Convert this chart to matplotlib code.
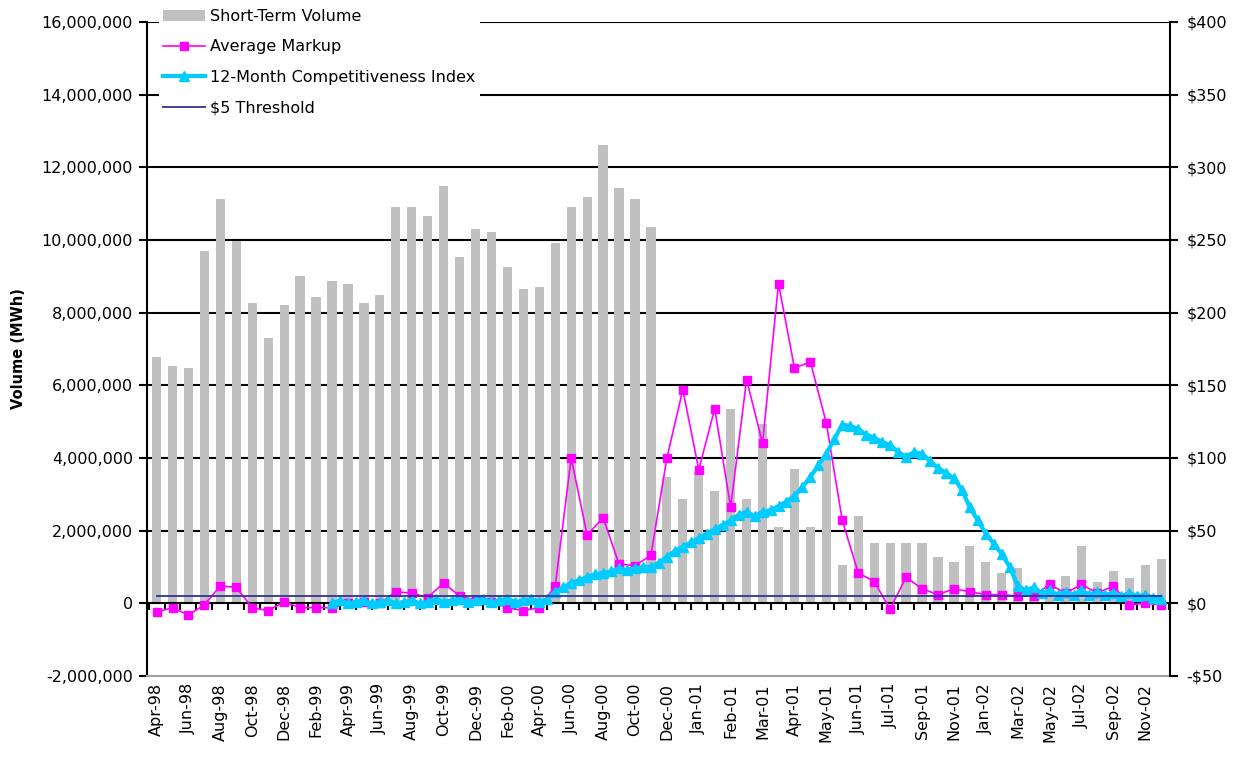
import numpy as np
import matplotlib
matplotlib.use("Agg")
import matplotlib.pyplot as plt
import matplotlib.markers as mmarkers
from matplotlib.patches import Patch
from matplotlib.lines import Line2D

# Monthly short-term volume (MWh)
volume = [6.77e6, 6.53e6, 6.47e6, 9.70e6, 11.12e6, 9.98e6, 8.27e6, 7.29e6,
          8.20e6, 9.02e6, 8.42e6, 8.87e6, 8.79e6, 8.27e6, 8.49e6, 10.90e6,
          10.90e6, 10.67e6, 11.49e6, 9.54e6, 10.29e6, 10.22e6, 9.25e6, 8.64e6,
          8.72e6, 9.91e6, 10.90e6, 11.19e6, 12.61e6, 11.42e6, 11.12e6, 10.37e6,
          3.47e6, 2.87e6, 3.62e6, 3.09e6, 5.34e6, 2.87e6, 4.94e6, 2.11e6,
          3.69e6, 2.11e6, 4.02e6, 1.05e6, 2.41e6, 1.65e6, 1.65e6, 1.65e6,
          1.65e6, 1.28e6, 1.13e6, 1.59e6, 1.13e6, 0.83e6, 0.98e6, 0.45e6,
          0.55e6, 0.75e6, 1.59e6, 0.60e6, 0.90e6, 0.70e6, 1.05e6, 1.21e6]

# Average markup ($/MWh), one value per period
markup = [-6, -3, -8, -1, 12, 11, -3, -5, 1, -3, -3, -3, 0, 1, 0, 8,
          7, 4, 14, 5, 2, 1, -3, -5, -3, 12, 100, 47, 59, 27, 26, 33,
          100, 147, 92, 134, 66, 154, 110, 220, 162, 166, 124, 57, 21, 15, -4, 18,
          10, 6, 10, 8, 6, 6, 5, 5, 13, 7, 13, 7, 12, -1, 0, -1]

# 12-month competitiveness index ($/MWh), sampled twice per period
index_start = 11.0
index_step = 0.5
comp_index = [0, 2, 0, 1, 2, 0, 1, 2, 0, 1, 2, 0, 1, 3, 1, 2,
              3, 1, 2, 3, 1, 2, 3, 1, 2, 3, 1, 3, 8, 11, 14, 16,
              18, 20, 21, 22, 24, 23, 24, 25, 25, 28, 32, 36, 39, 42, 45, 48,
              51, 54, 57, 61, 63, 60, 63, 64, 67, 70, 74, 80, 87, 95, 103, 113,
              123, 122, 120, 116, 114, 111, 109, 104, 101, 104, 103, 98, 93, 90, 86, 78,
              66, 57, 48, 41, 34, 25, 12, 9, 11, 7, 9, 6, 8, 6, 9, 6,
              8, 6, 7, 5, 7, 5, 6, 4, 3]

threshold = 5

tick_labels = ['Apr-98', 'Jun-98', 'Aug-98', 'Oct-98', 'Dec-98', 'Feb-99',
               'Apr-99', 'Jun-99', 'Aug-99', 'Oct-99', 'Dec-99', 'Feb-00',
               'Apr-00', 'Jun-00', 'Aug-00', 'Oct-00', 'Dec-00', 'Jan-01',
               'Feb-01', 'Mar-01', 'Apr-01', 'May-01', 'Jun-01', 'Jul-01',
               'Sep-01', 'Nov-01', 'Jan-02', 'Mar-02', 'May-02', 'Jul-02',
               'Sep-02', 'Nov-02']

vol_ticks = list(range(-2_000_000, 16_000_001, 2_000_000))
usd_ticks = list(range(-50, 401, 50))

BAR = '#c0c0c0'
MAGENTA = '#ff00ff'
CYAN = '#00ccff'
NAVY = '#333399'
FS = 11.5

plt.rcParams['font.family'] = ['DejaVu Sans']

W, H = 1239, 762
fig = plt.figure(figsize=(W / 100, H / 100), dpi=100)
ax = fig.add_axes([147 / W, 1 - 676 / H, (1170 - 147) / W, (676 - 22) / H])

x = np.arange(len(volume))
ax.set_xlim(-0.6, len(volume) - 0.45)
ax.set_ylim(vol_ticks[0], vol_ticks[-1])

# horizontal gridlines behind the bars
for t in vol_ticks[1:]:
    if t != 0:
        ax.axhline(t, color='black', lw=1.5, zorder=0)

ax.bar(x, volume, width=0.58, color=BAR, zorder=1)

# category axis crossing at zero, with tick marks between categories
ax.axhline(0, color='black', lw=1.5, zorder=2)
bounds = np.arange(len(volume) + 1) - 0.5
ax.plot(bounds, np.zeros_like(bounds), ls='none', marker=mmarkers.TICKDOWN,
        ms=5, mew=1.5, color='black', zorder=2, clip_on=False)

ax.set_xticks(x[::2])
ax.set_xticklabels(tick_labels, rotation=90, fontsize=FS)
ax.tick_params(axis='x', length=0, pad=5)

ax.set_yticks(vol_ticks)
ax.set_yticklabels([f'{v:,}' for v in vol_ticks], fontsize=FS)
ax.tick_params(axis='y', direction='out', length=6, width=1.5, pad=4)
ax.set_ylabel('Volume (MWh)', fontsize=10.5, fontweight='bold', labelpad=11)

ax.spines['top'].set_visible(False)
ax.spines['right'].set_visible(False)
ax.spines['left'].set_linewidth(1.5)
ax.spines['bottom'].set_color('#a0a0a0')
ax.spines['bottom'].set_linewidth(1.5)

# dollar axis
ax2 = ax.twinx()
ax2.set_ylim(usd_ticks[0], usd_ticks[-1])
ax2.set_yticks(usd_ticks)
ax2.set_yticklabels([f'-${-v}' if v < 0 else f'${v}' for v in usd_ticks], fontsize=FS)
ax2.tick_params(axis='y', direction='out', length=6, width=1.5, pad=6)
for s in ['top', 'left', 'bottom']:
    ax2.spines[s].set_visible(False)
ax2.spines['right'].set_linewidth(1.5)

cx = index_start + index_step * np.arange(len(comp_index))

ax2.plot(x, markup, color=MAGENTA, lw=1.2, marker='s', ms=5.5, mec=MAGENTA, zorder=3)
ax2.plot(cx, comp_index, color=CYAN, lw=3, marker='^', ms=7, mec=CYAN, zorder=4)
ax2.plot(x[[0, -1]], [threshold, threshold], color=NAVY, lw=1.3, zorder=5)

handles = [
    Patch(facecolor=BAR, edgecolor='none'),
    Line2D([], [], color=MAGENTA, lw=1.2, marker='s', ms=5.5),
    Line2D([], [], color=CYAN, lw=3, marker='^', ms=7),
    Line2D([], [], color=NAVY, lw=1.3),
]
labels = ['Short-Term Volume', 'Average Markup',
          '12-Month Competitiveness Index', '$5 Threshold']
leg = ax2.legend(handles, labels, loc='upper left',
                 bbox_to_anchor=(158.5 / W, 1 - 4 / H),
                 bbox_transform=fig.transFigure, fontsize=FS,
                 frameon=True, facecolor='white', edgecolor='none',
                 framealpha=1, fancybox=False, borderpad=0.3,
                 borderaxespad=0, handlelength=2.6, handletextpad=0.35,
                 labelspacing=0.97)
leg.set_zorder(10)

fig.savefig('out.png', dpi=100)
